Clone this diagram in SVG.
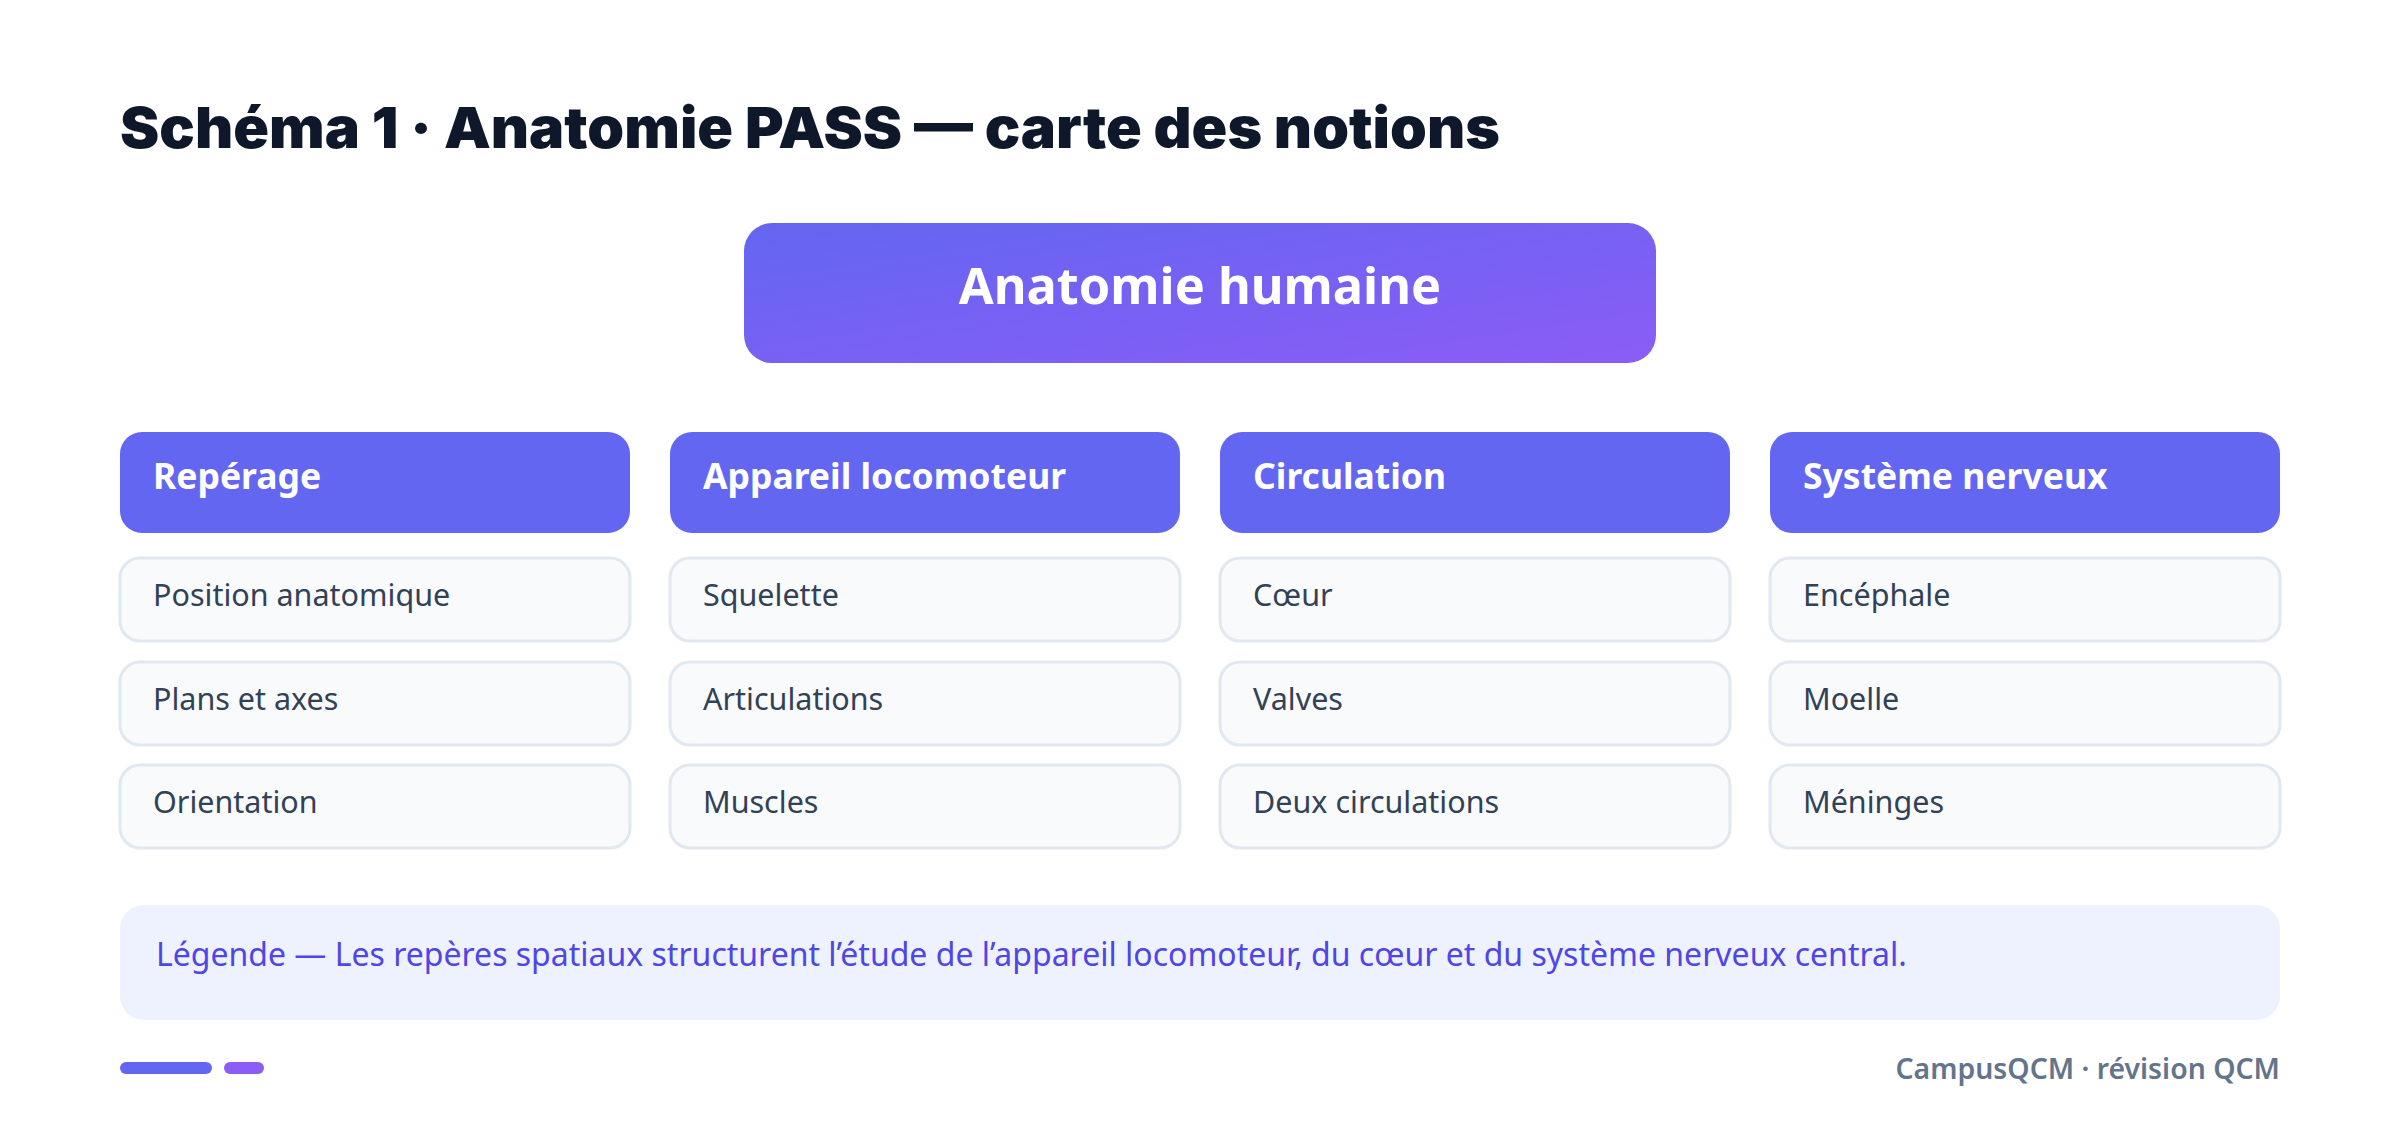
<svg xmlns="http://www.w3.org/2000/svg" width="2400" height="1130" viewBox="0 0 2400 1130">
<defs>
<linearGradient id="rootGrad" x1="0" y1="0" x2="1" y2="1">
<stop offset="0" stop-color="#6366F1"/>
<stop offset="1" stop-color="#8B5CF6"/>
</linearGradient>
<style>
.title{font-family:Inter,"Noto Sans",sans-serif;font-weight:900;font-size:57px;fill:#0F172A}
.root-t{font-family:"Noto Sans","Open Sans",sans-serif;font-weight:700;font-size:50.5px;fill:#FFFFFF}
.head{fill:#6366F1}
.head-t{font-family:"Noto Sans","Open Sans",sans-serif;font-weight:700;font-size:35.5px;fill:#FFFFFF}
.item{fill:#F8FAFC;stroke:#E2E8F0;stroke-width:3}
.item-t{font-family:"Noto Sans","Open Sans",sans-serif;font-size:30.5px;fill:#334155}
.leg{fill:#EEF2FF}
.leg-t{font-family:"Noto Sans","Open Sans",sans-serif;font-size:32px;fill:#4F46E5}
.foot-t{font-family:"Noto Sans","Open Sans",sans-serif;font-weight:600;font-size:28.4px;fill:#64748B}
</style>
</defs>
<rect width="2400" height="1130" fill="#FFFFFF"/>
<text class="title" x="120" y="148" textLength="1380" lengthAdjust="spacingAndGlyphs">Schéma 1 · Anatomie PASS — carte des notions</text>

<g id="root">
<rect x="744" y="223" width="912" height="140" rx="28" fill="url(#rootGrad)"/>
<text class="root-t" x="1200" y="304" text-anchor="middle">Anatomie humaine</text>
</g>

<g id="connectors"></g>

<g id="col-reperage">
<rect class="head" x="120" y="432" width="510" height="101" rx="22"/>
<text class="head-t" x="153" y="489">Repérage</text>
</g>
<g id="item-position"><rect class="item" x="120" y="558" width="510" height="83" rx="20"/><text class="item-t" x="153" y="606">Position anatomique</text></g>
<g id="item-plans"><rect class="item" x="120" y="662" width="510" height="83" rx="20"/><text class="item-t" x="153" y="710">Plans et axes</text></g>
<g id="item-orientation"><rect class="item" x="120" y="765" width="510" height="83" rx="20"/><text class="item-t" x="153" y="813">Orientation</text></g>

<g id="col-locomoteur">
<rect class="head" x="670" y="432" width="510" height="101" rx="22"/>
<text class="head-t" x="703" y="489">Appareil locomoteur</text>
</g>
<g id="item-squelette"><rect class="item" x="670" y="558" width="510" height="83" rx="20"/><text class="item-t" x="703" y="606">Squelette</text></g>
<g id="item-articulations"><rect class="item" x="670" y="662" width="510" height="83" rx="20"/><text class="item-t" x="703" y="710">Articulations</text></g>
<g id="item-muscles"><rect class="item" x="670" y="765" width="510" height="83" rx="20"/><text class="item-t" x="703" y="813">Muscles</text></g>

<g id="col-circulation">
<rect class="head" x="1220" y="432" width="510" height="101" rx="22"/>
<text class="head-t" x="1253" y="489">Circulation</text>
</g>
<g id="item-coeur"><rect class="item" x="1220" y="558" width="510" height="83" rx="20"/><text class="item-t" x="1253" y="606">Cœur</text></g>
<g id="item-valves"><rect class="item" x="1220" y="662" width="510" height="83" rx="20"/><text class="item-t" x="1253" y="710">Valves</text></g>
<g id="item-deux"><rect class="item" x="1220" y="765" width="510" height="83" rx="20"/><text class="item-t" x="1253" y="813">Deux circulations</text></g>

<g id="col-nerveux">
<rect class="head" x="1770" y="432" width="510" height="101" rx="22"/>
<text class="head-t" x="1803" y="489">Système nerveux</text>
</g>
<g id="item-encephale"><rect class="item" x="1770" y="558" width="510" height="83" rx="20"/><text class="item-t" x="1803" y="606">Encéphale</text></g>
<g id="item-moelle"><rect class="item" x="1770" y="662" width="510" height="83" rx="20"/><text class="item-t" x="1803" y="710">Moelle</text></g>
<g id="item-meninges"><rect class="item" x="1770" y="765" width="510" height="83" rx="20"/><text class="item-t" x="1803" y="813">Méninges</text></g>

<g id="legend">
<rect class="leg" x="120" y="905" width="2160" height="115" rx="24"/>
<text class="leg-t" x="156" y="966">Légende — Les repères spatiaux structurent l’étude de l’appareil locomoteur, du cœur et du système nerveux central.</text>
</g>

<g id="footer">
<rect x="120" y="1062" width="92" height="12" rx="6" fill="#6366F1"/>
<rect x="224" y="1062" width="40" height="12" rx="6" fill="#8B5CF6"/>
<text class="foot-t" x="2280" y="1079" text-anchor="end">CampusQCM · révision QCM</text>
</g>
</svg>
